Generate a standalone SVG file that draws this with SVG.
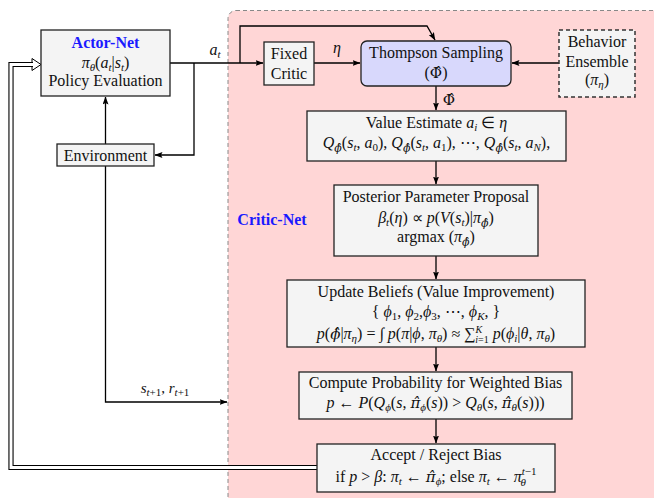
<svg xmlns="http://www.w3.org/2000/svg" width="654" height="498" viewBox="0 0 654 498">
<style>
.t{font-family:"Liberation Serif","Times New Roman",serif;font-size:16px;fill:#111;text-anchor:middle}
.i{font-style:italic}
.s{font-size:11px}
.h{font-family:"DejaVu Serif",serif}
.box{fill:#f4f4f4;stroke:#222;stroke-width:1.3}
.ln{fill:none;stroke:#000;stroke-width:1.3}
.lbl{font-family:"Liberation Serif","Times New Roman",serif;font-weight:bold;font-size:16px;fill:#1a1aff;text-anchor:middle}
</style>
<defs>
<marker id="ah" markerWidth="8" markerHeight="6" refX="7.5" refY="3" orient="auto" markerUnits="userSpaceOnUse">
<path d="M0,0 L8,3 L0,6 L1.5,3 z" fill="#000"/>
</marker>
</defs>
<rect id="critic-region" x="228" y="10.5" width="450" height="520" rx="8" fill="#ffd6d6" stroke="#888" stroke-width="1" stroke-dasharray="4,3"/>
<text class="lbl" x="272" y="225">Critic-Net</text>

<g id="connectors">
<path class="ln" d="M170,63 L263,63" marker-end="url(#ah)"/>
<path class="ln" d="M194,63 L194,155 L155,155" marker-end="url(#ah)"/>
<path class="ln" d="M240,63 L240,26 L427,26 L435,40" marker-end="url(#ah)"/>
<path class="ln" d="M314,63 L360,63" marker-end="url(#ah)"/>
<path class="ln" d="M559,63 L512,63" marker-end="url(#ah)"/>
<path class="ln" d="M436,86 L436,110" marker-end="url(#ah)"/>
<path class="ln" d="M436,161 L436,184" marker-end="url(#ah)"/>
<path class="ln" d="M436,256 L436,279" marker-end="url(#ah)"/>
<path class="ln" d="M436,347 L436,371" marker-end="url(#ah)"/>
<path class="ln" d="M436,419 L436,443" marker-end="url(#ah)"/>
<path class="ln" d="M105.5,144 L105.5,97" marker-end="url(#ah)"/>
<path class="ln" d="M105.5,166 L105.5,402 L227,402" marker-end="url(#ah)"/>
<polygon points="41,64.5 32,58.5 32,70.5" fill="#fff" stroke="#000" stroke-width="1"/>
<path d="M317,467.5 L11,467.5 L11,64.5 L33,64.5" fill="none" stroke="#000" stroke-width="5.2"/>
<path d="M318,467.5 L11,467.5 L11,64.5 L34,64.5" fill="none" stroke="#fff" stroke-width="3"/>
<text class="t i" x="215" y="55">a<tspan class="s" dy="3">t</tspan></text>
<text class="t i" x="337" y="53">η</text>
<text class="t h" x="449" y="105" style="font-size:15px">Φ̂</text>
<text class="t i" x="165" y="393" style="font-size:15px">s<tspan class="s" dy="3">t</tspan><tspan class="s" style="font-style:normal">+1</tspan><tspan dy="-3" style="font-style:normal">, </tspan>r<tspan class="s" dy="3">t</tspan><tspan class="s" style="font-style:normal">+1</tspan></text>
</g>

<g id="actor">
<rect class="box" x="41" y="30" width="129" height="66"/>
<text class="lbl" x="105.5" y="48">Actor-Net</text>
<text class="t" x="105.5" y="68"><tspan class="i">π</tspan><tspan class="s i" dy="3">θ</tspan><tspan dy="-3">(</tspan><tspan class="i">a</tspan><tspan class="s i" dy="3">t</tspan><tspan dy="-3">|</tspan><tspan class="i">s</tspan><tspan class="s i" dy="3">t</tspan><tspan dy="-3">)</tspan></text>
<text class="t" x="105.5" y="86">Policy Evaluation</text>
</g>

<g id="environment">
<rect class="box" x="57" y="144" width="97" height="22"/>
<text class="t" x="105.5" y="161">Environment</text>
</g>

<g id="fixed-critic">
<rect class="box" x="264" y="42" width="50" height="43"/>
<text class="t" x="289" y="59">Fixed</text>
<text class="t" x="289" y="79">Critic</text>
</g>

<g id="thompson">
<rect x="361" y="41" width="150" height="45" rx="6" fill="#d8d8fc" stroke="#222" stroke-width="1.3"/>
<text class="t" x="436" y="58">Thompson Sampling</text>
<text class="t" x="436" y="78">(<tspan class="h" style="font-size:15px">Φ̂</tspan>)</text>
</g>

<g id="behavior">
<rect x="559" y="30" width="76" height="67" fill="#f4f4f4" stroke="#333" stroke-width="1.5" stroke-dasharray="4,3"/>
<text class="t" x="597" y="47">Behavior</text>
<text class="t" x="597" y="67">Ensemble</text>
<text class="t" x="597" y="85">(<tspan class="i">π</tspan><tspan class="s i" dy="3">η</tspan><tspan dy="-3">)</tspan></text>
</g>

<g id="value-estimate">
<rect class="box" x="307" y="111" width="259" height="50"/>
<text class="t" x="436.5" y="128">Value Estimate <tspan class="i">a</tspan><tspan class="s i" dy="3">i</tspan><tspan dy="-3"> ∈ </tspan><tspan class="i">η</tspan></text>
<text class="t" x="436.5" y="148"><tspan class="i">Q</tspan><tspan class="s i h" dy="4">ϕ̂</tspan><tspan dy="-4">(</tspan><tspan class="i">s</tspan><tspan class="s i" dy="3">t</tspan><tspan dy="-3">, </tspan><tspan class="i">a</tspan><tspan class="s" dy="3">0</tspan><tspan dy="-3">), </tspan><tspan class="i">Q</tspan><tspan class="s i h" dy="4">ϕ̂</tspan><tspan dy="-4">(</tspan><tspan class="i">s</tspan><tspan class="s i" dy="3">t</tspan><tspan dy="-3">, </tspan><tspan class="i">a</tspan><tspan class="s" dy="3">1</tspan><tspan dy="-3">), ⋯, </tspan><tspan class="i">Q</tspan><tspan class="s i h" dy="4">ϕ̂</tspan><tspan dy="-4">(</tspan><tspan class="i">s</tspan><tspan class="s i" dy="3">t</tspan><tspan dy="-3">, </tspan><tspan class="i">a</tspan><tspan class="s i" dy="3">N</tspan><tspan dy="-3">),</tspan></text>
</g>

<g id="posterior">
<rect class="box" x="334" y="185" width="204" height="71"/>
<text class="t" x="436" y="202">Posterior Parameter Proposal</text>
<text class="t" x="436" y="223"><tspan class="i">β</tspan><tspan class="s i" dy="3">t</tspan><tspan dy="-3">(</tspan><tspan class="i">η</tspan><tspan>) ∝ </tspan><tspan class="i">p</tspan><tspan>(</tspan><tspan class="i">V</tspan><tspan>(</tspan><tspan class="i">s</tspan><tspan class="s i" dy="3">t</tspan><tspan dy="-3">)|</tspan><tspan class="i">π</tspan><tspan class="s i h" dy="4">ϕ̂</tspan><tspan dy="-4">)</tspan></text>
<text class="t" x="436" y="242">argmax (<tspan class="i">π</tspan><tspan class="s i h" dy="4">ϕ̂</tspan><tspan dy="-4">)</tspan></text>
</g>

<g id="update-beliefs">
<rect class="box" x="287" y="280" width="298" height="67"/>
<text class="t" x="436" y="297">Update Beliefs (Value Improvement)</text>
<text class="t" x="436" y="317">{ <tspan class="i">ϕ</tspan><tspan class="s" dy="3">1</tspan><tspan dy="-3">, </tspan><tspan class="i">ϕ</tspan><tspan class="s" dy="3">2</tspan><tspan dy="-3">,</tspan><tspan class="i">ϕ</tspan><tspan class="s" dy="3">3</tspan><tspan dy="-3">, ⋯, </tspan><tspan class="i">ϕ</tspan><tspan class="s i" dy="3">K</tspan><tspan dy="-3">, }</tspan></text>
<text class="t" x="436" y="339"><tspan class="i">p</tspan><tspan>(</tspan><tspan class="i h" style="font-size:15px">ϕ̂</tspan><tspan>|</tspan><tspan class="i">π</tspan><tspan class="s i" dy="3">η</tspan><tspan dy="-3">) = ∫ </tspan><tspan class="i">p</tspan><tspan>(</tspan><tspan class="i">π</tspan><tspan>|</tspan><tspan class="i">ϕ</tspan><tspan>, </tspan><tspan class="i">π</tspan><tspan class="s i" dy="3">θ</tspan><tspan dy="-3">) ≈ ∑</tspan><tspan class="s i" dy="-6" style="font-size:10px">K</tspan><tspan class="s" dx="-7" dy="10" style="font-size:10px"><tspan class="i">i</tspan>=1</tspan><tspan dy="-4"> </tspan><tspan class="i">p</tspan><tspan>(</tspan><tspan class="i">ϕ</tspan><tspan class="s i" dy="3">i</tspan><tspan dy="-3">|</tspan><tspan class="i">θ</tspan><tspan>, </tspan><tspan class="i">π</tspan><tspan class="s i" dy="3">θ</tspan><tspan dy="-3">)</tspan></text>
</g>

<g id="compute-probability">
<rect class="box" x="299" y="372" width="273" height="47"/>
<text class="t" x="435.5" y="388">Compute Probability for Weighted Bias</text>
<text class="t" x="435.5" y="408"><tspan class="i">p</tspan><tspan> ← </tspan><tspan class="i">P</tspan><tspan>(</tspan><tspan class="i">Q</tspan><tspan class="s i" dy="3">ϕ</tspan><tspan dy="-3">(</tspan><tspan class="i">s</tspan><tspan>, </tspan><tspan class="i h" style="font-size:15px">π̂</tspan><tspan class="s i" dy="3">ϕ</tspan><tspan dy="-3">(</tspan><tspan class="i">s</tspan><tspan>)) &gt; </tspan><tspan class="i">Q</tspan><tspan class="s i" dy="3">θ</tspan><tspan dy="-3">(</tspan><tspan class="i">s</tspan><tspan>, </tspan><tspan class="i h" style="font-size:15px">π̂</tspan><tspan class="s i" dy="3">θ</tspan><tspan dy="-3">(</tspan><tspan class="i">s</tspan><tspan>)))</tspan></text>
</g>

<g id="accept-reject">
<rect class="box" x="317" y="444" width="238" height="48"/>
<text class="t" x="436" y="460">Accept / Reject Bias</text>
<text class="t" x="436" y="482">if <tspan class="i">p</tspan><tspan> &gt; </tspan><tspan class="i">β</tspan><tspan>: </tspan><tspan class="i">π</tspan><tspan class="s i" dy="3">t</tspan><tspan dy="-3"> ← </tspan><tspan class="i h" style="font-size:15px">π̂</tspan><tspan class="s i" dy="3">ϕ</tspan><tspan dy="-3">; else </tspan><tspan class="i">π</tspan><tspan class="s i" dy="3">t</tspan><tspan dy="-3"> ← </tspan><tspan class="i">π</tspan><tspan class="s i" dy="-7">t</tspan><tspan class="s">−1</tspan><tspan class="s i" dx="-16" dy="11">θ</tspan><tspan dy="-4" dx="8"></tspan></text>
</g>
</svg>
